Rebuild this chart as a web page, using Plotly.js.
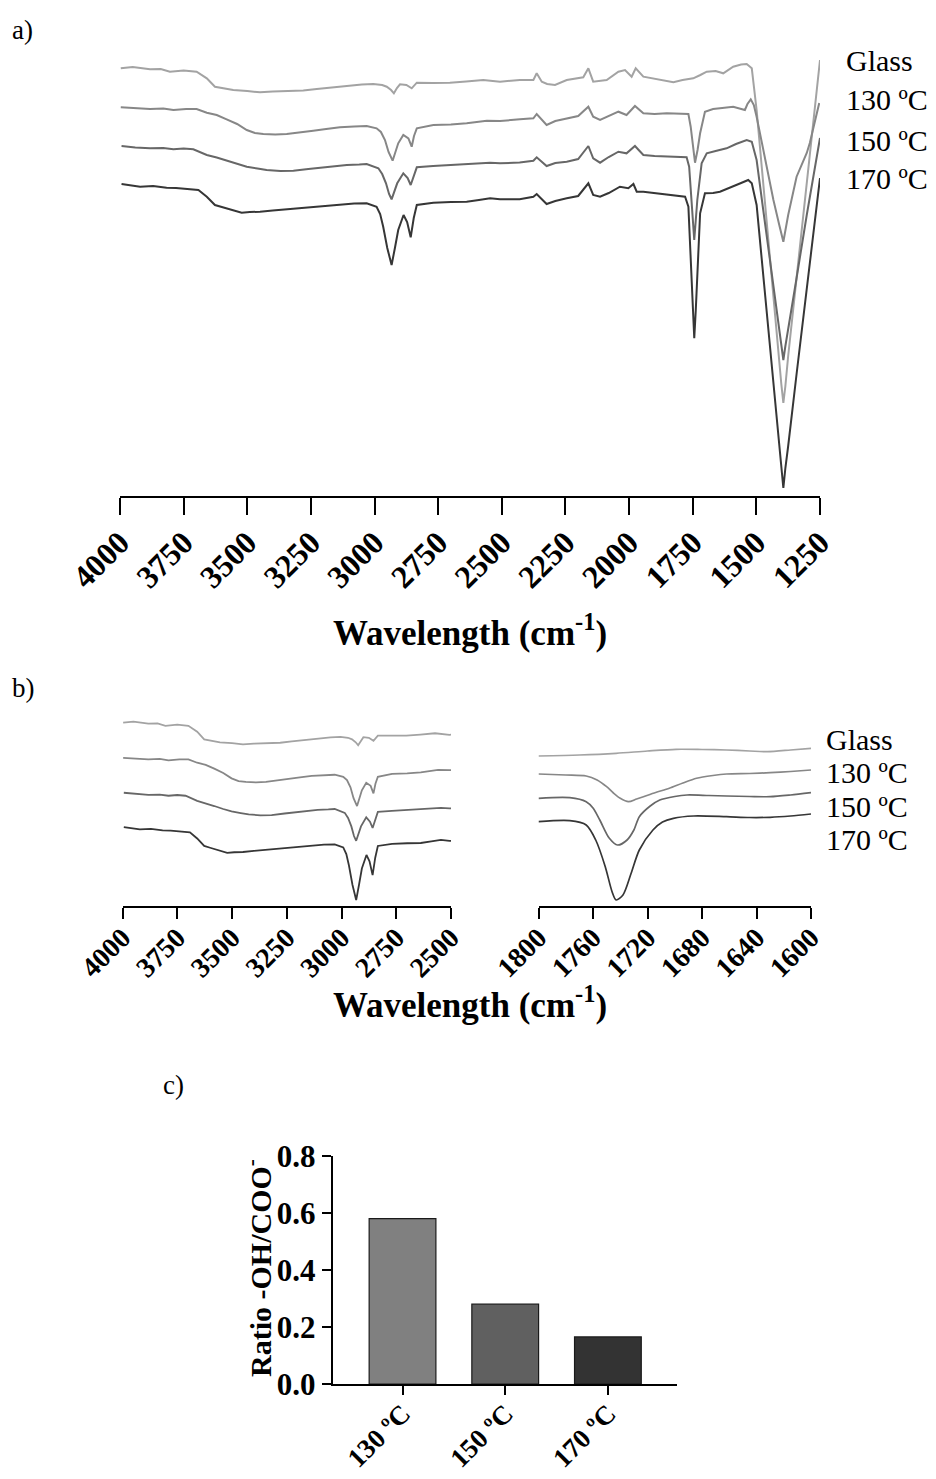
<!DOCTYPE html>
<html>
<head>
<meta charset="utf-8">
<script src="https://cdn.plot.ly/plotly-3.0.1.min.js"></script>
<style>html,body{margin:0;padding:0;background:#fff;}#chart{width:936px;height:1479px;}</style>
</head>
<body>
<div id="chart"></div>
<script>
// ---------- DATA (transmittance in arbitrary units) ----------
// Panel a / b-left : full FTIR spectra
const glassWn = [3997,3950,3882,3840,3804,3750,3699,3659,3627,3590,3555,3500,3450,3400,3345,3280,3227,3170,3109,3050,3005,2970,2952,2935,2924,2912,2900,2875,2854,2834,2770,2704,2640,2573,2507,2429,2376,2363,2343,2322,2291,2245,2180,2160,2141,2088,2042,2016,1990,1974,1944,1900,1826,1790,1748,1720,1695,1660,1630,1591,1560,1538,1518,1499,1473,1433,1410,1402,1394,1386,1375,1355,1316,1277,1250];
const glassT  = [427.7,429,426.7,427,424.3,425.5,424.3,417.7,409.3,407.5,406,405,403.7,404.5,405,405.5,407,408.5,410.3,411.5,412,411,409.3,406,402.7,408,411.7,411,407.7,413.3,413,413.3,414.5,416,414.3,416,416,422.7,414.3,412,411,416,418.7,427.7,414.3,416,424.3,426,419.3,427.7,419.3,417,413.7,416,417.7,421,424.3,425,422.7,429.3,431.5,432,427.7,386,311,201,136,112,93,110,140,188,282,376,436];

const c130Wn = [3997,3940,3882,3830,3790,3740,3699,3659,3620,3581,3540,3502,3470,3437,3390,3345,3290,3241,3190,3136,3080,3031,2992,2975,2959,2945,2929,2918,2907,2887,2867,2854,2845,2834,2769,2700,2638,2559,2507,2429,2376,2363,2324,2290,2245,2200,2160,2141,2114,2080,2042,2010,1977,1944,1900,1852,1800,1767,1758,1750,1741,1731,1721,1702,1670,1643,1591,1545,1535,1522,1510,1499,1473,1433,1410,1394,1375,1342,1302,1290,1253];
const c130T  = [388.7,388,387,387.5,386,387,387,383.3,381,376.7,372,366,363,362,361.5,362,363.5,365.3,367,368.7,369.5,370,367.7,364,356,344,335.3,344,352.7,361,357.7,349.3,360,367.7,371,371.5,372.7,375.3,375,376.7,377.7,382,371,375,377.7,380,389.3,379.3,376,380,384.3,381,390,382.7,382,382.7,382,382,369.3,351,333.3,346,362.7,384.3,387,387.7,389.3,386,392,396.7,391,379.3,346,296,271,254.3,281,319.3,343,353,393];

const c150Wn = [3994,3940,3882,3830,3790,3750,3712,3659,3620,3581,3540,3502,3460,3424,3370,3319,3260,3214,3160,3109,3060,3031,2985,2970,2955,2943,2933,2922,2911,2887,2870,2858,2846,2834,2770,2704,2620,2546,2507,2430,2376,2363,2324,2290,2245,2200,2160,2141,2114,2080,2042,2010,1977,1944,1900,1852,1800,1774,1764,1752,1744,1738,1732,1715,1695,1660,1617,1580,1538,1518,1499,1473,1433,1410,1402,1394,1386,1375,1342,1302,1277,1250];
const c150T  = [350,348.5,347.7,348,346.7,347.5,346.7,341,338.5,335.3,332,329.3,327.5,326,325,325.3,327,328.3,330,331,331.5,332,327.7,322,312.7,302,296.7,304,312.7,322.7,318,311,321,328.7,330,331,332,333.3,332.7,333.5,335.3,338.7,330,333,334.3,337,350,337.7,333.3,339,344.3,342.7,350,341,340,339.3,339,338.7,329.3,289.3,256,276,296,332.7,342.7,345,347.7,352,356,354.3,336,286,211,166,150,136,150,166,218,281,320,358];

const c170Wn = [3994,3960,3921,3870,3817,3780,3738,3692,3659,3627,3600,3581,3550,3522,3490,3450,3400,3345,3290,3241,3190,3136,3080,3031,2992,2978,2966,2950,2933,2920,2907,2886,2872,2858,2846,2834,2769,2700,2638,2590,2546,2507,2430,2376,2363,2324,2290,2245,2200,2160,2141,2114,2080,2036,2003,1983,1970,1944,1900,1852,1800,1780,1767,1754,1744,1738,1732,1721,1702,1670,1643,1591,1560,1532,1518,1499,1473,1433,1410,1402,1394,1386,1375,1342,1302,1277,1250];
const c170T  = [312,311,309.3,310,308.3,308,306.7,306,299.3,291,289,287.7,285,283.3,284,284.3,285.5,286.7,288,289.3,290.5,291.7,292.5,292.7,289.3,282,269.3,248,231,248,266,281,274,258.7,278,291,293.3,294,294.3,296,297.7,296.7,296.7,299.3,302,292,295,297.7,300,312.7,301,299.3,303,309.3,307.7,312,304.3,304.3,303,302,300,299.3,289.3,222.7,157.7,186,222.7,282.7,302.7,303,304.3,309.3,313,316,312.7,291,221,113,49,28,8,28,50,122,210,264,318];

// Panel b-right : carbonyl region (separately scaled)
const bGlassWn = [1800,1770,1743,1720,1699,1680,1662,1645,1632,1615,1600];
const bGlassT  = [150,151,152.7,155,156.7,156.5,156,155,154.3,156,157.7];
const b130Wn = [1800,1780,1765,1757,1750,1745,1740,1734,1728,1723,1714,1704,1694,1684,1672,1662,1645,1630,1615,1600];
const b130T  = [132,131,130,126,119.3,113,107.7,104.3,107,109.3,113.5,117.7,123,127.7,130.5,132,132.5,133.3,134.5,136];
const b150Wn = [1800,1777,1765,1760,1755,1748,1742,1735,1730,1726,1718,1711,1700,1691,1675,1662,1645,1630,1615,1600];
const b150T  = [107.7,108.3,104.3,98,86,67.7,61,66,76,89.3,100,106,109.5,111,110.5,110,109.5,109.3,111,113.3];
const b170Wn = [1800,1777,1765,1758,1751,1746,1743,1738,1732,1726,1716,1709,1701,1686,1662,1645,1630,1615,1600];
const b170T  = [84.3,85.3,81,66,39.3,14.3,6,11,32.7,56,76,84,87.7,90,89.3,88.5,88.7,90,92];

// Series labels and tick labels
const seriesNames = ['Glass','130 ºC','150 ºC','170 ºC'];
const aTicks = [4000,3750,3500,3250,3000,2750,2500,2250,2000,1750,1500,1250];
const bLeftTicks = [4000,3750,3500,3250,3000,2750,2500];
const bRightTicks = [1800,1760,1720,1680,1640,1600];

// Panel c : ratio bar chart
const ratioCats = ['130 ºC','150 ºC','170 ºC'];
const ratioVals = [0.58,0.28,0.165];

// ---------- STYLE ----------
const W = 936, H = 1479;
const px = x => x / W;
const py = y => 1 - y / H;
const SERIF = 'Liberation Serif, Times New Roman, serif';
const lineColors = ['#a3a3a3','#878787','#676767','#363636'];
const barColors = ['#808080','#606060','#333333'];

const aSeries = [[glassWn,glassT],[c130Wn,c130T],[c150Wn,c150T],[c170Wn,c170T]];
const bSeries = [[bGlassWn,bGlassT],[b130Wn,b130T],[b150Wn,b150T],[b170Wn,b170T]];

const traces = [];
aSeries.forEach((s,i)=>{
  traces.push({x:s[0], y:s[1], xaxis:'x', yaxis:'y', mode:'lines', name:seriesNames[i],
    line:{color:lineColors[i], width:2}, showlegend:false, hoverinfo:'skip'});
});
aSeries.forEach((s,i)=>{
  traces.push({x:s[0], y:s[1], xaxis:'x2', yaxis:'y2', mode:'lines', name:seriesNames[i],
    line:{color:lineColors[i], width:1.8}, showlegend:false, hoverinfo:'skip'});
});
bSeries.forEach((s,i)=>{
  traces.push({x:s[0], y:s[1], xaxis:'x3', yaxis:'y3', mode:'lines', name:seriesNames[i],
    line:{color:lineColors[i], width:1.7, shape:'spline', smoothing:0.8}, showlegend:false, hoverinfo:'skip'});
});
traces.push({type:'bar', x:ratioCats, y:ratioVals, xaxis:'x4', yaxis:'y4', width:0.65,
  marker:{color:barColors, line:{color:'#1a1a1a', width:1.2}}, showlegend:false, hoverinfo:'skip'});

const tickFontA = {family:SERIF, size:32, color:'#000', weight:'bold'};
const tickFontB = {family:SERIF, size:28, color:'#000', weight:'bold'};
const baseX = {showgrid:false, zeroline:false, showline:true, linecolor:'#000', linewidth:2,
  ticks:'outside', tickcolor:'#000', tickwidth:2, tickangle:-45, tickmode:'array'};

const annotations = [];
function label(text, x, y, size, extra){
  annotations.push(Object.assign({text, x:px(x), y:py(y), xref:'paper', yref:'paper',
    xanchor:'left', yanchor:'middle', showarrow:false,
    font:{family:SERIF, size:size, color:'#000'}}, extra||{}));
}
label('a)', 10, 30, 27);
label('b)', 10, 688, 27);
label('c)', 161, 1085, 27);
// Panel a series labels
[60,100,140,179].forEach((y,i)=>label(seriesNames[i], 844, y, 30));
// Panel b series labels
[739,772,806,839].forEach((y,i)=>label(seriesNames[i], 824, y, 30));
// axis titles
label('Wavelength (cm<sup>-1</sup>)', 470, 630, 35, {xanchor:'center', font:{family:SERIF, size:35, color:'#000', weight:'bold'}});
label('Wavelength (cm<sup>-1</sup>)', 470, 1002, 35, {xanchor:'center', font:{family:SERIF, size:35, color:'#000', weight:'bold'}});
label('Ratio -OH/COO<sup>-</sup>', 258, 1268, 30, {xanchor:'center', textangle:-90, font:{family:SERIF, size:30, color:'#000', weight:'bold'}});

const layout = {
  width: W, height: H,
  margin:{l:0, r:0, t:0, b:0},
  paper_bgcolor:'#fff', plot_bgcolor:'rgba(0,0,0,0)',
  showlegend:false,
  xaxis: Object.assign({}, baseX, {domain:[px(120), px(820)], range:[4000,1250], anchor:'y',
    tickvals:aTicks, ticktext:aTicks.map(String), ticklen:17, tickfont:tickFontA, ticklabelstandoff:-4}),
  yaxis: {domain:[py(496), py(55)], range:[0,441], visible:false, anchor:'x'},
  xaxis2: Object.assign({}, baseX, {domain:[px(122.5), px(451)], range:[4000,2500], anchor:'y2',
    tickvals:bLeftTicks, ticktext:bLeftTicks.map(String), ticklen:11, tickfont:tickFontB, ticklabelstandoff:-9}),
  yaxis2: {domain:[py(906), py(710)], range:[224.4,441.8], visible:false, anchor:'x2'},
  xaxis3: Object.assign({}, baseX, {domain:[px(538.5), px(811)], range:[1800,1600], anchor:'y3',
    tickvals:bRightTicks, ticktext:bRightTicks.map(String), ticklen:11, tickfont:tickFontB, ticklabelstandoff:-9}),
  yaxis3: {domain:[py(906), py(710)], range:[0,196], visible:false, anchor:'x3'},
  xaxis4: {domain:[px(332.7), px(676.7)], range:[-0.68,2.67], anchor:'y4', type:'category',
    showgrid:false, zeroline:false, showline:true, linecolor:'#000', linewidth:2,
    ticks:'outside', ticklen:9, tickwidth:2, tickcolor:'#000', tickangle:-45, ticklabelstandoff:-8,
    tickfont:{family:SERIF, size:27, color:'#000', weight:'bold'}},
  yaxis4: {domain:[py(1384), py(1156)], range:[0,0.8], anchor:'x4', dtick:0.2, tick0:0, tickformat:'.1f',
    showgrid:false, zeroline:false, showline:true, linecolor:'#000', linewidth:2,
    ticks:'outside', ticklen:9, tickwidth:2, tickcolor:'#000',
    tickfont:{family:SERIF, size:31, color:'#000', weight:'bold'}},
  annotations
};

Plotly.newPlot('chart', traces, layout, {staticPlot:true, displayModeBar:false});
</script>
</body>
</html>
